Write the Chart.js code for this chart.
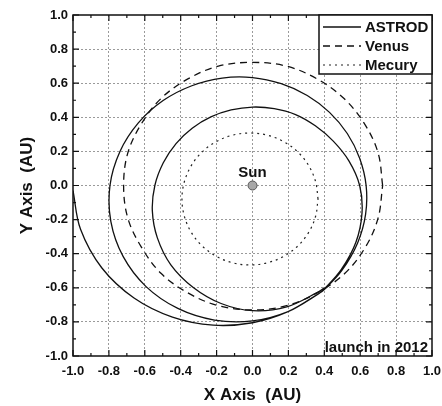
<!DOCTYPE html>
<html>
<head>
<meta charset="utf-8">
<script src="https://cdn.jsdelivr.net/npm/chart.js@4.4.0/dist/chart.umd.min.js"></script>
<style>
  html, body { margin: 0; padding: 0; background: #fff; }
</style>
</head>
<body>
<canvas id="orbitChart" width="442" height="406"></canvas>
<script>
// tick values (AU)
var tickValues = [-1.0, -0.8, -0.6, -0.4, -0.2, 0.0, 0.2, 0.4, 0.6, 0.8, 1.0];
var minorTickValues = [-0.9, -0.7, -0.5, -0.3, -0.1, 0.1, 0.3, 0.5, 0.7, 0.9];

// ASTROD trajectory: launch arc, outer loop, inner loop
var astrodX = [-1.00, -0.958, -0.839, -0.660, -0.446, -0.219, 0.000, 0.198, 0.367, 0.400,
  0.498, 0.585, 0.630, 0.633, 0.597, 0.528, 0.429, 0.305, 0.160, 0.000, -0.169, -0.338, -0.498, -0.636, -0.739,
  -0.794, -0.789, -0.721, -0.593, -0.416, -0.212, 0.000, 0.198, 0.367, 0.400,
  0.494, 0.576, 0.610, 0.597, 0.537, 0.450, 0.350, 0.240, 0.121, 0.000, -0.119, -0.232, -0.336, -0.426, -0.497,
  -0.544, -0.558, -0.530, -0.455, -0.330, -0.175, 0.000, 0.191, 0.362, 0.400];
var astrodY = [-0.03, -0.257, -0.484, -0.660, -0.772, -0.819, -0.805, -0.740, -0.635, -0.610,
  -0.498, -0.338, -0.169, 0.000, 0.160, 0.305, 0.429, 0.528, 0.597, 0.633, 0.630, 0.585, 0.498, 0.367, 0.198,
  0.000, -0.212, -0.416, -0.593, -0.721, -0.789, -0.794, -0.739, -0.636, -0.607,
  -0.494, -0.333, -0.162, 0.000, 0.144, 0.260, 0.350, 0.416, 0.451, 0.460, 0.443, 0.402, 0.336, 0.246, 0.133,
  0.000, -0.149, -0.307, -0.465, -0.598, -0.692, -0.734, -0.712, -0.627, -0.600];

// Venus orbit
var venusX = [0.725, 0.70, 0.625, 0.51, 0.36, 0.19, 0.00, -0.19, -0.36, -0.51, -0.62, -0.695, -0.718,
  -0.695, -0.62, -0.51, -0.36, -0.19, 0.00, 0.19, 0.36, 0.515, 0.63, 0.70, 0.725];
var venusY = [0.00, 0.19, 0.36, 0.51, 0.625, 0.70, 0.722, 0.70, 0.625, 0.51, 0.36, 0.19, 0.00,
  -0.19, -0.36, -0.515, -0.63, -0.705, -0.73, -0.705, -0.63, -0.515, -0.36, -0.19, 0.00];

// Mercury orbit
var mercuryX = [0.365, 0.352, 0.314, 0.254, 0.176, 0.084, -0.014, -0.112, -0.204, -0.282, -0.342, -0.380, -0.393,
  -0.380, -0.342, -0.282, -0.204, -0.112, -0.014, 0.084, 0.176, 0.254, 0.314, 0.352, 0.365];
var mercuryY = [-0.079, 0.021, 0.115, 0.195, 0.256, 0.295, 0.308, 0.295, 0.256, 0.195, 0.115, 0.021, -0.079,
  -0.179, -0.273, -0.353, -0.414, -0.453, -0.466, -0.453, -0.414, -0.353, -0.273, -0.179, -0.079];

var sunX = [0.0];
var sunY = [0.0];

var FONT = "'Liberation Sans', Arial, Helvetica, sans-serif";

function toPoints(xs, ys) {
  return xs.map(function (x, i) { return { x: x, y: ys[i] }; });
}

function fmtTick(v) {
  return Math.abs(v) < 1e-9 ? '0.0' : v.toFixed(1);
}

// frame, inward ticks, legend box and free texts
var decorPlugin = {
  id: 'decor',
  afterDraw: function (chart) {
    var ctx = chart.ctx;
    var a = chart.chartArea;
    var sx = chart.scales.x, sy = chart.scales.y;
    ctx.save();

    ctx.strokeStyle = '#111';
    ctx.lineWidth = 1.2;
    var drawTicks = function (vals, len) {
      vals.forEach(function (v) {
        var px = sx.getPixelForValue(v), py = sy.getPixelForValue(v);
        ctx.beginPath();
        ctx.moveTo(px, a.bottom); ctx.lineTo(px, a.bottom - len);
        ctx.moveTo(px, a.top); ctx.lineTo(px, a.top + len);
        ctx.moveTo(a.left, py); ctx.lineTo(a.left + len, py);
        ctx.moveTo(a.right, py); ctx.lineTo(a.right - len, py);
        ctx.stroke();
      });
    };
    drawTicks(tickValues, 6);
    drawTicks(minorTickValues, 3);

    ctx.lineWidth = 1.5;
    ctx.strokeRect(a.left, a.top, a.right - a.left, a.bottom - a.top);

    // legend
    var lx = a.right - 113, ly = a.top, lw = 113, lh = 59;
    ctx.fillStyle = '#fff';
    ctx.fillRect(lx, ly, lw, lh);
    ctx.lineWidth = 1.5;
    ctx.strokeRect(lx, ly, lw, lh);
    ctx.font = 'bold 15px ' + FONT;
    ctx.textBaseline = 'middle';
    ctx.textAlign = 'left';
    for (var i = 0; i < 3; i++) {
      var ds = chart.data.datasets[i];
      var rowY = ly + 12 + i * 19;
      ctx.beginPath();
      ctx.setLineDash(ds.borderDash || []);
      ctx.lineWidth = ds.borderWidth;
      ctx.strokeStyle = ds.borderColor;
      ctx.moveTo(lx + 4, rowY);
      ctx.lineTo(lx + 42, rowY);
      ctx.stroke();
      ctx.setLineDash([]);
      ctx.fillStyle = '#111';
      ctx.fillText(ds.label, lx + 46, rowY + 1);
    }

    // texts
    ctx.fillStyle = '#111';
    ctx.textAlign = 'right';
    ctx.textBaseline = 'alphabetic';
    ctx.fillText('launch in 2012', a.right - 4, a.bottom - 4);
    ctx.textAlign = 'center';
    ctx.fillText('Sun', sx.getPixelForValue(sunX[0]), sy.getPixelForValue(sunY[0]) - 9);
    ctx.restore();
  }
};

var lineStyle = { showLine: true, pointRadius: 0, pointHoverRadius: 0, tension: 0.35, fill: false };

new Chart(document.getElementById('orbitChart'), {
  type: 'scatter',
  data: {
    datasets: [
      Object.assign({ label: 'ASTROD', data: toPoints(astrodX, astrodY), borderColor: '#111', borderWidth: 1.3 }, lineStyle),
      Object.assign({ label: 'Venus', data: toPoints(venusX, venusY), borderColor: '#111', borderWidth: 1.3, borderDash: [7, 5] }, lineStyle),
      Object.assign({ label: 'Mecury', data: toPoints(mercuryX, mercuryY), borderColor: '#222', borderWidth: 1.2, borderDash: [2, 4] }, lineStyle),
      {
        label: 'Sun', data: toPoints(sunX, sunY), showLine: false,
        pointRadius: 4.5, pointBackgroundColor: '#a8a8a8', pointBorderColor: '#555', pointBorderWidth: 1
      }
    ]
  },
  options: {
    responsive: false,
    animation: false,
    devicePixelRatio: 1,
    layout: { padding: { left: 0, right: 10, top: 15, bottom: 0 } },
    plugins: { legend: { display: false }, tooltip: { enabled: false } },
    scales: {
      x: {
        type: 'linear', position: 'bottom', min: -1, max: 1,
        afterBuildTicks: function (s) { s.ticks = tickValues.map(function (v) { return { value: v }; }); },
        afterFit: function (s) { s.height = 50; s.paddingLeft = 0; s.paddingRight = 0; },
        ticks: { callback: fmtTick, color: '#111', padding: 8, maxRotation: 0, font: { family: FONT, size: 13, weight: 'bold' } },
        grid: {
          drawTicks: false,
          color: function (c) { return Math.abs(c.tick.value) > 0.99 ? 'rgba(0,0,0,0)' : '#9a9a9a'; },
          lineWidth: 1
        },
        border: { display: false, dash: [2, 2] },
        title: { display: true, text: 'X Axis  (AU)', color: '#111', padding: 0, font: { family: FONT, size: 17, weight: 'bold' } }
      },
      y: {
        type: 'linear', position: 'left', min: -1, max: 1,
        afterBuildTicks: function (s) { s.ticks = tickValues.map(function (v) { return { value: v }; }); },
        afterFit: function (s) { s.width = 73; s.paddingTop = 0; s.paddingBottom = 0; },
        ticks: { callback: fmtTick, color: '#111', padding: 5, font: { family: FONT, size: 13, weight: 'bold' } },
        grid: {
          drawTicks: false,
          color: function (c) { return Math.abs(c.tick.value) > 0.99 ? 'rgba(0,0,0,0)' : '#9a9a9a'; },
          lineWidth: 1
        },
        border: { display: false, dash: [2, 2] },
        title: { display: true, text: 'Y Axis  (AU)', color: '#111', padding: { top: 17, bottom: 0 }, font: { family: FONT, size: 17, weight: 'bold' } }
      }
    }
  },
  plugins: [decorPlugin]
});
</script>
</body>
</html>
